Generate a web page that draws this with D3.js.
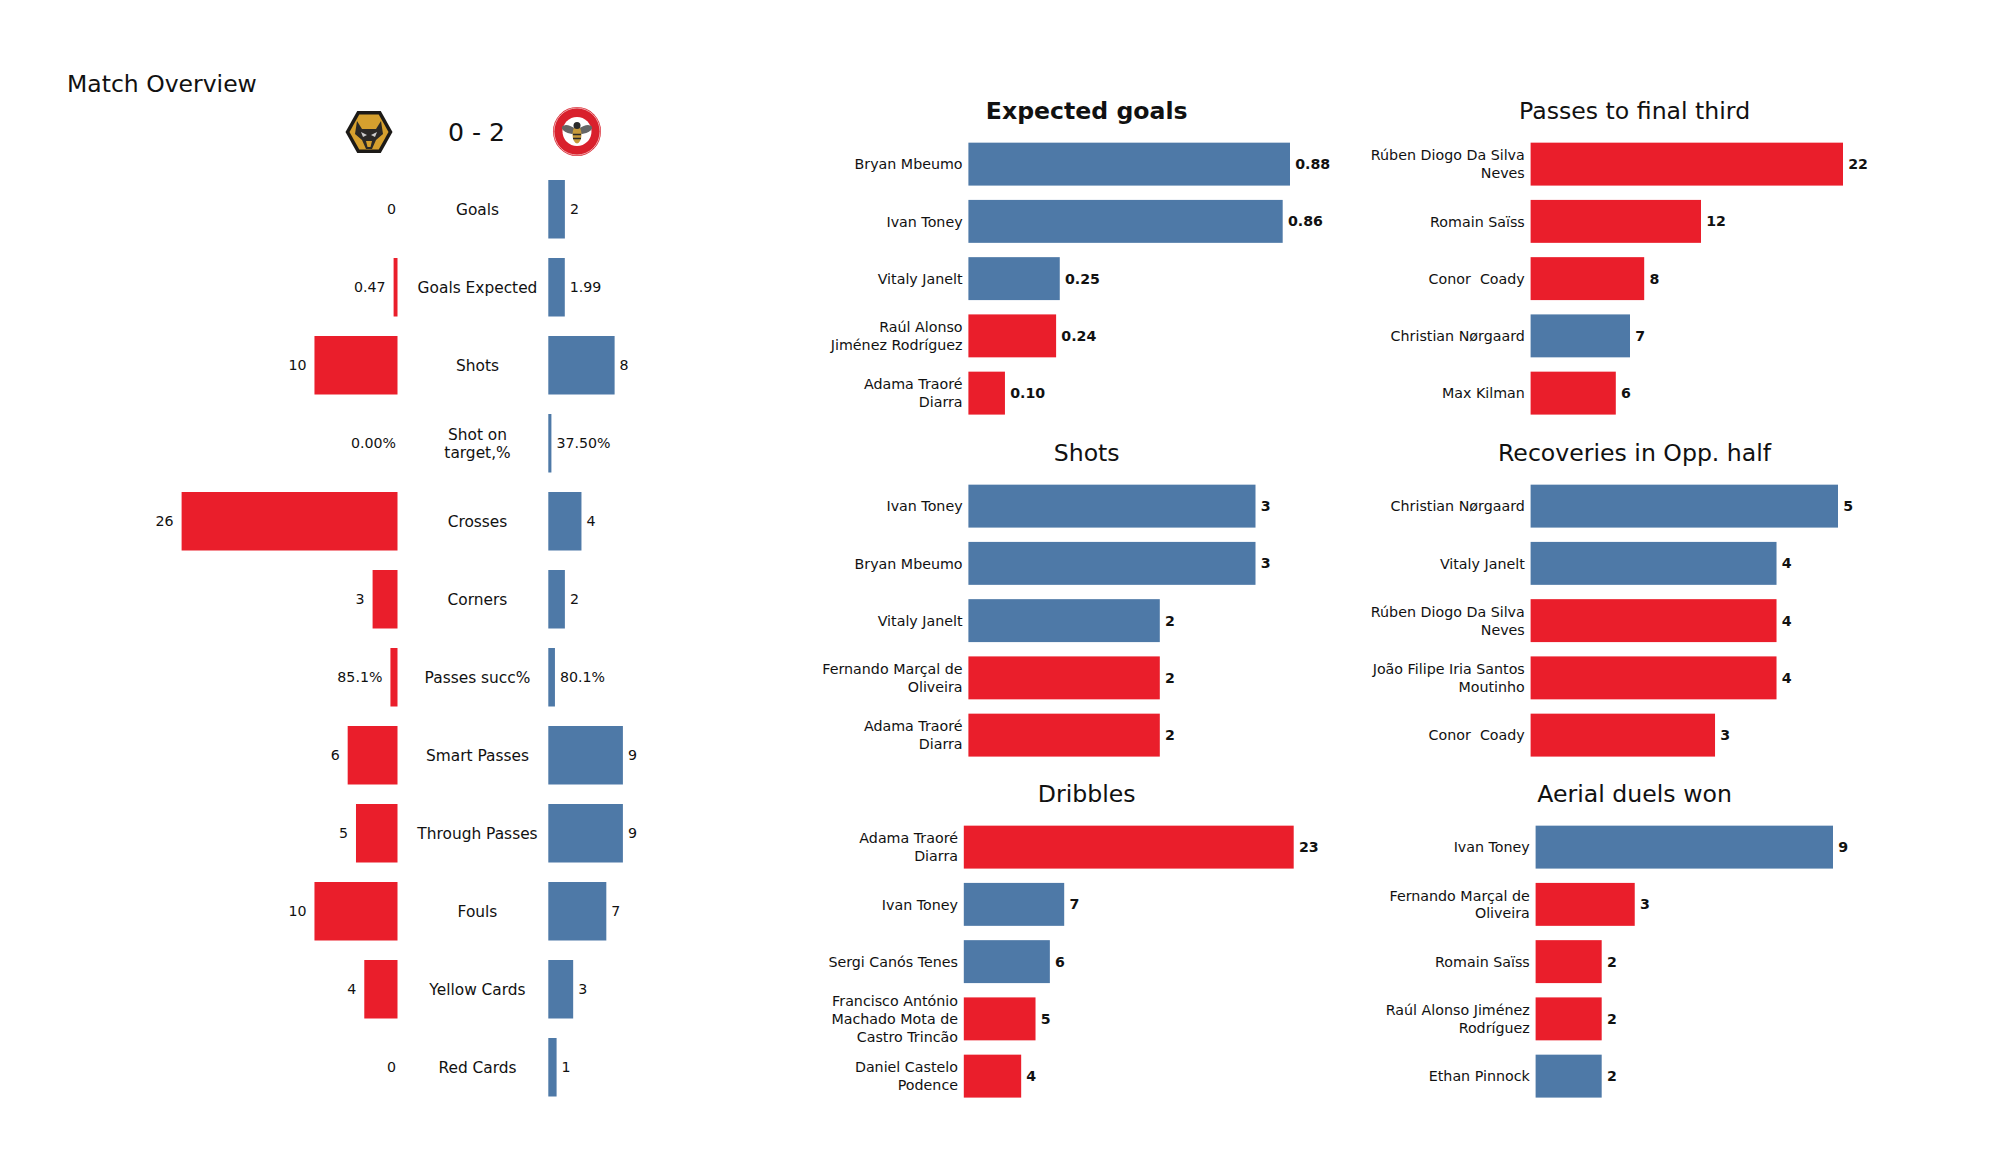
<!DOCTYPE html>
<html><head><meta charset="utf-8">
<script src="https://cdn.jsdelivr.net/npm/d3@7"></script>
<style>
html,body{margin:0;padding:0;background:#fff}
svg{display:block}
text{font-family:"DejaVu Sans",sans-serif;fill:#111}
</style></head><body><svg id="c" width="2000" height="1175"></svg>
<script>
const RED="#ea1e2b", BLUE="#4e79a7";
const overviewCategories=["Goals","Goals Expected","Shots","Shot on\ntarget,%","Crosses","Corners","Passes succ%","Smart Passes","Through Passes","Fouls","Yellow Cards","Red Cards"];
const homeValues=[0,0.47,10,0,26,3,0.851,6,5,10,4,0];
const awayValues=[2,1.99,8,0.375,4,2,0.801,9,9,7,3,1];
const homeLabels=["0","0.47","10","0.00%","26","3","85.1%","6","5","10","4","0"];
const awayLabels=["2","1.99","8","37.50%","4","2","80.1%","9","9","7","3","1"];

const xgNames=["Bryan Mbeumo","Ivan Toney","Vitaly Janelt","Raúl Alonso\nJiménez Rodríguez","Adama Traoré\nDiarra"];
const xgValues=[0.88,0.86,0.25,0.24,0.10];
const xgTeams=["a","a","a","h","h"];
const shotNames=["Ivan Toney","Bryan Mbeumo","Vitaly Janelt","Fernando Marçal de\nOliveira","Adama Traoré\nDiarra"];
const shotValues=[3,3,2,2,2];
const shotTeams=["a","a","a","h","h"];
const dribbleNames=["Adama Traoré\nDiarra","Ivan Toney","Sergi Canós Tenes","Francisco António\nMachado Mota de\nCastro Trincão","Daniel Castelo\nPodence"];
const dribbleValues=[23,7,6,5,4];
const dribbleTeams=["h","a","a","h","h"];
const passNames=["Rúben Diogo Da Silva\nNeves","Romain Saïss","Conor  Coady","Christian Nørgaard","Max Kilman"];
const passValues=[22,12,8,7,6];
const passTeams=["h","h","h","a","h"];
const recNames=["Christian Nørgaard","Vitaly Janelt","Rúben Diogo Da Silva\nNeves","João Filipe Iria Santos\nMoutinho","Conor  Coady"];
const recValues=[5,4,4,4,3];
const recTeams=["a","a","h","h","h"];
const aerialNames=["Ivan Toney","Fernando Marçal de\nOliveira","Romain Saïss","Raúl Alonso Jiménez\nRodríguez","Ethan Pinnock"];
const aerialValues=[9,3,2,2,2];
const aerialTeams=["a","h","h","h","a"];

const svg=d3.select("#c");
function multiline(sel,lh){
  sel.each(function(d){
    const lines=String(d).split("\n"), t=d3.select(this);
    t.text(null);
    const x=t.attr("x")||0;
    lines.forEach((l,i)=>t.append("tspan").attr("x",x)
      .attr("dy",i===0?(-(lines.length-1)*lh/2)+"px":lh+"px").attr("xml:space","preserve").text(l));
  });
}
// Overview
const oy=d3.scaleBand().domain(d3.range(12)).range([170.25,170.25+78*12]).paddingInner(.25).paddingOuter(.125);
const xHome=d3.scaleLinear().domain([0,26]).range([397.5,181.6]);
const xAway=d3.scaleLinear().domain([0,9]).range([548.3,622.9]);
svg.append("text").attr("x",67).attr("y",92).attr("font-size",23.5).text("Match Overview");
svg.append("text").attr("x",476.5).attr("y",141).attr("text-anchor","middle").attr("font-size",25.2).text("0 - 2");

const og=svg.append("g");
og.selectAll(".h").data(homeValues).join("rect").attr("fill",RED)
  .attr("x",d=>xHome(d)).attr("width",d=>xHome(0)-xHome(d))
  .attr("y",(d,i)=>oy(i)).attr("height",oy.bandwidth());
og.selectAll(".a").data(awayValues).join("rect").attr("class","a").attr("fill",BLUE)
  .attr("x",xAway(0)).attr("width",d=>xAway(d)-xAway(0))
  .attr("y",(d,i)=>oy(i)).attr("height",oy.bandwidth());
const mid=i=>oy(i)+oy.bandwidth()/2;
og.selectAll(".hl").data(homeLabels).join("text").attr("class","hl").attr("font-size",14.2)
  .attr("text-anchor","end").attr("dominant-baseline","central")
  .attr("x",(d,i)=>homeValues[i]===0?396:xHome(homeValues[i])-8)
  .attr("y",(d,i)=>mid(i)-.5).text(d=>d);
og.selectAll(".al").data(awayLabels).join("text").attr("class","al").attr("font-size",14.2)
  .attr("dominant-baseline","central")
  .attr("x",(d,i)=>xAway(awayValues[i])+5)
  .attr("y",(d,i)=>mid(i)-.5).text(d=>d);
og.selectAll(".cl").data(overviewCategories).join("text").attr("class","cl").attr("font-size",15.4)
  .attr("text-anchor","middle").attr("dominant-baseline","central")
  .attr("x",477.5).attr("y",(d,i)=>mid(i)+.6).call(multiline,17.8);

// Logos
const wolves=svg.append("g").attr("transform","translate(369,132)");
const hex=r=>d3.range(6).map(i=>{const a=i*Math.PI/3;return [r*Math.cos(a),r*Math.sin(a)*1.03].join(",")}).join(" ");
wolves.append("polygon").attr("points",hex(23.5)).attr("fill","#1c1a17");
wolves.append("polygon").attr("points",hex(19.5)).attr("fill","#d6a02e");
wolves.append("polygon").attr("points","-12,-11 -7,-3 7,-3 12,-11 14,2 7,8 3,17 -3,17 -7,8 -14,2").attr("fill","#2b2926");
wolves.append("polygon").attr("points","-8,0 -2,3 -6,5").attr("fill","#ccc");
wolves.append("polygon").attr("points","8,0 2,3 6,5").attr("fill","#ccc");
wolves.append("polygon").attr("points","-3,9 3,9 1.5,15 -1.5,15").attr("fill","#d6a02e");
const bee=svg.append("g").attr("transform","translate(577,131.5)");
bee.append("ellipse").attr("rx",24).attr("ry",24.5).attr("fill","#d9202c");
bee.append("ellipse").attr("rx",23).attr("ry",23.5).attr("fill","none").attr("stroke","#f4c9c9").attr("stroke-width",.8);
bee.append("circle").attr("r",14.5).attr("fill","#fff");
bee.append("ellipse").attr("cx",-8).attr("cy",-2).attr("rx",7.5).attr("ry",3.8).attr("fill","#666").attr("transform","rotate(20 -8 -2)");
bee.append("ellipse").attr("cx",8).attr("cy",-2).attr("rx",7.5).attr("ry",3.8).attr("fill","#666").attr("transform","rotate(-20 8 -2)");
bee.append("ellipse").attr("cy",3).attr("rx",4.5).attr("ry",9).attr("fill","#c79a3a");
bee.append("circle").attr("cy",-6).attr("r",3.5).attr("fill","#2a2a2a");
bee.append("path").attr("d","M-4,3H4M-4,7H4").attr("stroke","#2a2a2a").attr("stroke-width",1.5);

// Player panels
function panel(o){
  const y=d3.scaleBand().domain(d3.range(5)).range([o.top-7.2,o.top-7.2+57.25*5]).paddingInner(.25).paddingOuter(.125);
  const x=d3.scaleLinear().domain([0,o.max]).range([o.x0,o.x1]);
  const g=svg.append("g");
  g.append("text").attr("x",o.cx).attr("y",o.top-23.5).attr("text-anchor","middle")
    .attr("font-size",23.6).attr("font-weight",o.bold?"bold":"normal").text(o.title);
  g.selectAll("rect").data(o.values).join("rect")
    .attr("x",x(0)).attr("y",(d,i)=>y(i)).attr("height",y.bandwidth())
    .attr("width",d=>x(d)-x(0)).attr("fill",(d,i)=>o.teams[i]==="h"?RED:BLUE);
  const ax=d3.axisLeft(d3.scaleBand().domain(o.names).range(y.range()).paddingInner(.25).paddingOuter(.125)).tickSize(0).tickPadding(0);
  const ag=g.append("g").attr("transform",`translate(${o.x0-5.8},0.2)`).call(ax);
  ag.select(".domain").remove();
  ag.selectAll("text").attr("font-family",'"DejaVu Sans",sans-serif').attr("font-size",14.25).attr("fill","#111")
    .attr("dy",null).attr("dominant-baseline","central").attr("x",0).call(multiline,17.8);
  g.selectAll(".v").data(o.values).join("text").attr("class","v").attr("font-size",14.2).attr("font-weight","bold")
    .attr("dominant-baseline","central").attr("x",d=>x(d)+5.2).attr("y",(d,i)=>y(i)+y.bandwidth()/2)
    .text(d=>o.fmt?o.fmt(d):d);
}
panel({title:"Expected goals",bold:true,names:xgNames,values:xgValues,teams:xgTeams,max:.88,x0:968.4,x1:1290,top:142.7,cx:1086.7,fmt:d3.format(".2f")});
panel({title:"Shots",names:shotNames,values:shotValues,teams:shotTeams,max:3,x0:968.4,x1:1255.5,top:484.7,cx:1086.7});
panel({title:"Dribbles",names:dribbleNames,values:dribbleValues,teams:dribbleTeams,max:23,x0:963.8,x1:1293.7,top:825.7,cx:1086.7});
panel({title:"Passes to final third",names:passNames,values:passValues,teams:passTeams,max:22,x0:1530.6,x1:1843,top:142.7,cx:1634.6});
panel({title:"Recoveries in Opp. half",names:recNames,values:recValues,teams:recTeams,max:5,x0:1530.6,x1:1838,top:484.7,cx:1634.6});
panel({title:"Aerial duels won",names:aerialNames,values:aerialValues,teams:aerialTeams,max:9,x0:1535.6,x1:1833,top:825.7,cx:1634.6});
</script></body></html>
